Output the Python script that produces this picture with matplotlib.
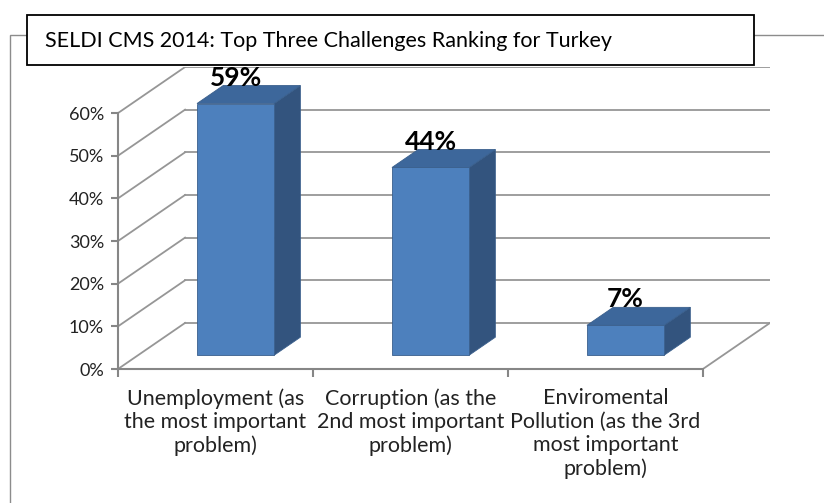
import matplotlib
matplotlib.use("Agg")
import matplotlib.pyplot as plt
from matplotlib.patches import Polygon, Rectangle
from matplotlib.lines import Line2D

plt.rcParams['font.family'] = ['Lato', 'DejaVu Sans']

# data
categories = ["Unemployment (as\nthe most important\nproblem)",
              "Corruption (as the\n2nd most important\nproblem)",
              "Enviromental\nPollution (as the 3rd\nmost important\nproblem)"]
values = [59, 44, 7]
labels = ["59%", "44%", "7%"]
yticks = [0, 10, 20, 30, 40, 50, 60]
title = "SELDI CMS 2014: Top Three Challenges Ranking for Turkey"

# fake 3d: depth offset in data units
DX = 0.344
DY = 10.8
D0, D1 = 0.30, 0.69
HW = 0.198

W, H = 824, 503
fig = plt.figure(figsize=(W / 100, H / 100), dpi=100)

# outer chart border
fig.add_artist(Rectangle((10 / W, -0.1), 1.2, (H - 35) / H + 0.1, transform=fig.transFigure,
                         fill=False, edgecolor='#8c8c8c', lw=1.0))

ax = fig.add_axes([118 / W, (H - 369) / H, (770 - 118) / W, (369 - 67) / H])
ax.set_xlim(0, 3 + DX)
ax.set_ylim(0, 60 + DY)
ax.patch.set_visible(False)

grid_c = '#969696'
# back wall gridlines and left wall diagonals
for v in yticks:
    ax.add_line(Line2D([DX, 3 + DX], [v + DY, v + DY], color=grid_c, lw=1.3, zorder=1))
    ax.add_line(Line2D([0, DX], [v, v + DY], color=grid_c, lw=1.3, zorder=1))
# floor right edge
ax.add_line(Line2D([3, 3 + DX], [0, DY], color=grid_c, lw=1.3, zorder=1))

front_c = '#4d80bd'
top_c = '#3d679b'
side_c = '#33547e'
edge_c = '#3a5f8c'

def p(x, y, d):
    return (x + d * DX, y + d * DY)

for i, v in enumerate(values):
    c = i + 0.5
    l, r = c - HW, c + HW
    front = [p(l, 0, D0), p(r, 0, D0), p(r, v, D0), p(l, v, D0)]
    top = [p(l, v, D0), p(r, v, D0), p(r, v, D1), p(l, v, D1)]
    side = [p(r, 0, D0), p(r, 0, D1), p(r, v, D1), p(r, v, D0)]
    ax.add_patch(Polygon(side, closed=True, facecolor=side_c, edgecolor=edge_c, lw=0.6, zorder=3))
    ax.add_patch(Polygon(top, closed=True, facecolor=top_c, edgecolor=edge_c, lw=0.6, zorder=3))
    ax.add_patch(Polygon(front, closed=True, facecolor=front_c, edgecolor=edge_c, lw=0.6, zorder=4))
    lx, ly = p(c, v, D0)
    ax.text(lx, v + D1 * DY, labels[i], ha='center', va='baseline',
            fontsize=19, fontweight='bold', color='black', zorder=6)

# axes: only front left and bottom
for s in ['top', 'right']:
    ax.spines[s].set_visible(False)
for s in ['left', 'bottom']:
    ax.spines[s].set_color('#868686')
    ax.spines[s].set_linewidth(1.5)
ax.spines['left'].set_bounds(0, 60)
ax.spines['bottom'].set_bounds(0, 3)

ax.set_yticks(yticks)
ax.set_yticklabels([f"{t}%" for t in yticks])
ax.set_xticks([0, 1, 2, 3])
ax.set_xticklabels([])
ax.set_xticks([0.5, 1.5, 2.5], minor=True)
ax.set_xticklabels(categories, minor=True, linespacing=1.2)
ax.tick_params(axis='y', length=5, width=1.5, color='#868686', pad=5, labelsize=13, labelcolor='#222222')
ax.tick_params(axis='x', which='major', length=6, width=1.5, color='#868686')
ax.tick_params(axis='x', which='minor', length=0, pad=14, labelsize=15.5, labelcolor='#222222')

# title box
fig.add_artist(Rectangle((27 / W, (H - 65) / H), (754 - 27) / W, 50 / H, transform=fig.transFigure,
                         facecolor='white', edgecolor='black', lw=1.3, zorder=10))
fig.text(45 / W, (H - 41) / H, title, ha='left', va='center', fontsize=15.5, color='black', zorder=11)

fig.savefig('out.png', dpi=100)
